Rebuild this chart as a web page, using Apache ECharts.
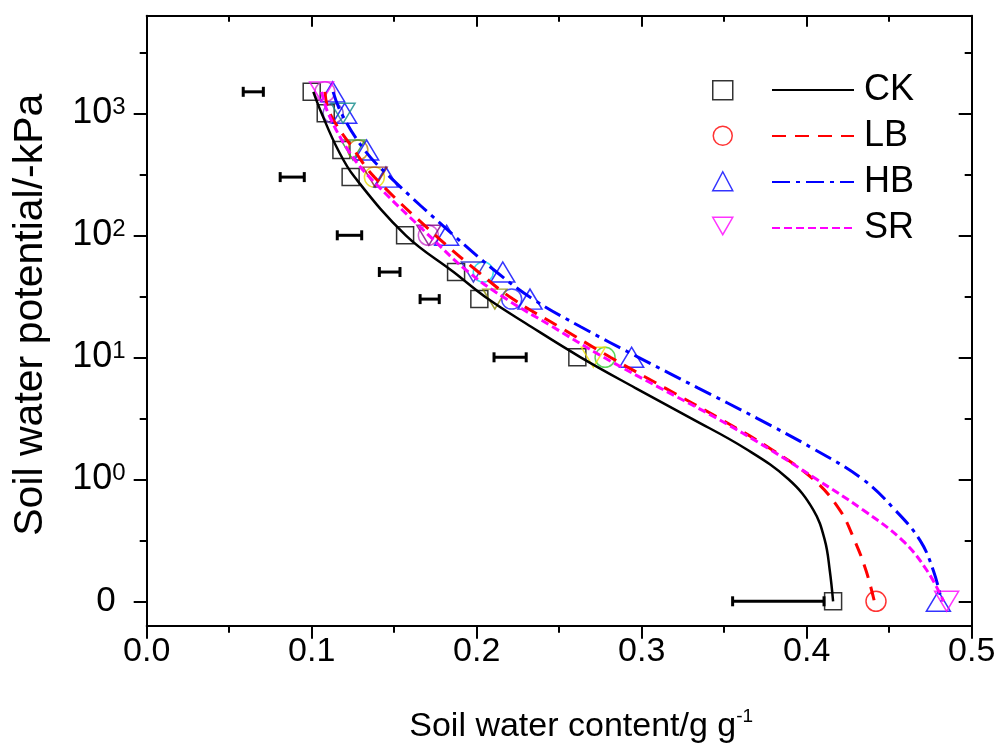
<!DOCTYPE html>
<html>
<head>
<meta charset="utf-8">
<script src="https://cdn.jsdelivr.net/npm/echarts@6/dist/echarts.min.js"></script>
<style>
  html, body { margin: 0; padding: 0; background: #fff; }
  #chart { width: 1003px; height: 751px; }
</style>
</head>
<body>
<div id="chart"></div>
<script>
// Measured soil water potentials (kPa); 0 is drawn one decade below 10^0
const levels = [1500, 1000, 500, 300, 100, 50, 30, 10, 0];

// Measured soil water content (g g-1) at each potential
const ckContent = [0.100, 0.1085, 0.118, 0.1236, 0.1566, 0.1875, 0.2016, 0.261, 0.416];
const lbContent = [0.108, 0.113, 0.128, 0.138, 0.1707, 0.204, 0.2212, 0.2778, 0.442];
const hbContent = [0.1127, 0.120, 0.1333, 0.145, 0.1818, 0.2158, 0.2323, 0.2939, 0.4798];
const srContent = [0.106, 0.119, 0.125, 0.1384, 0.171, 0.198, 0.211, 0.2707, 0.4848];

// Marker colours per point for LB and SR
const lbColors = ['#cc33cc', '#6a3acb', '#b8860b', '#e6d800', '#cc33cc', '#00d8e8', '#1a1aff', '#33cc33', '#ff0000'];
const srColors = ['#ff00ff', '#0f8a8a', '#2e8b2e', '#8b1a1a', '#800080', '#1a1acc', '#8a8a00', '#f0e000', '#ff00ff'];

// Fitted retention curves
const curveLevels = [1500, 1000, 500, 300, 100, 50, 30, 17.8, 10, 5.62, 3.16, 1.78, 1, 0.562, 0.316, 0.178, 0];
const ckCurve = [0.101, 0.106, 0.116, 0.126, 0.157, 0.186, 0.207, 0.233, 0.263, 0.296, 0.330, 0.363, 0.389, 0.404, 0.411, 0.414, 0.416];
const lbCurve = [0.108, 0.111, 0.1257, 0.138, 0.175, 0.201, 0.222, 0.250, 0.281, 0.314, 0.347, 0.378, 0.404, 0.420, 0.429, 0.436, 0.441];
const hbCurve = [0.113, 0.118, 0.132, 0.1475, 0.186, 0.212, 0.234, 0.263, 0.298, 0.334, 0.370, 0.404, 0.434, 0.4535, 0.4687, 0.4768, 0.4818];
const srCurve = [0.106, 0.110, 0.122, 0.135, 0.171, 0.195, 0.218, 0.246, 0.277, 0.311, 0.3455, 0.377, 0.406, 0.434, 0.458, 0.473, 0.483];

// Horizontal error bars (potential, lower and upper water content)
const errLevels = [1500, 300, 100, 50, 30, 10, 0];
const errLow = [0.0585, 0.0809, 0.1155, 0.141, 0.1657, 0.2105, 0.3551];
const errHigh = [0.0707, 0.0955, 0.1303, 0.1535, 0.1773, 0.230, 0.4105];

// Axis ticks (log10 of potential; -1 carries the "0" label)
const yMajorTicks = [-1, 0, 1, 2, 3];
const yMinorTicks = [-0.5, 0.5, 1.5, 2.5, 3.5];

const FONT = '"Liberation Sans", Arial, Helvetica, sans-serif';
const pos = h => (h === 0 ? -1 : Math.log10(h));

const chart = echarts.init(document.getElementById('chart'));

const gridRect = { left: 146.7, right: 31.3, top: 15.7, bottom: 125.3 };
const Y_MIN = -1.2, Y_MAX = 3.8;
const axisLineStyle = { color: '#000', width: 2 };

const triDown = 'path://M0,0L20,0L10,17.3Z';

function pts(xs, ys) { return ys.map((h, i) => [xs[i], pos(h)]); }

const option = {
  animation: false,
  backgroundColor: '#fff',
  grid: [
    Object.assign({}, gridRect),
    Object.assign({}, gridRect)
  ],
  xAxis: [
    {
      type: 'value', gridIndex: 0, position: 'bottom', min: 0, max: 0.5, interval: 0.1,
      axisLine: { show: true, onZero: false, lineStyle: axisLineStyle },
      axisTick: { show: true, inside: false, length: 13, lineStyle: { color: '#000', width: 2 } },
      minorTick: { show: true, splitNumber: 2, length: 7, lineStyle: { color: '#000', width: 2 } },
      axisLabel: { show: true, margin: 9, color: '#000', fontSize: 34, fontFamily: FONT,
        formatter: v => v.toFixed(1) },
      splitLine: { show: false },
      name: '{t|Soil water content/g g}{s|-1}',
      nameLocation: 'middle', nameGap: 82,
      nameTextStyle: {
        padding: [0, 0, 0, 44],
        rich: {
          t: { fontSize: 34, fontFamily: FONT, color: '#000' },
          s: { fontSize: 19, fontFamily: FONT, color: '#000', padding: [0, 0, 18, 0] }
        }
      }
    },
    {
      type: 'value', gridIndex: 0, position: 'top', min: 0, max: 0.5, interval: 0.1,
      axisLine: { show: true, onZero: false, lineStyle: axisLineStyle },
      axisTick: { show: true, inside: true, length: 11, lineStyle: { color: '#000', width: 2 } },
      minorTick: { show: true, splitNumber: 2, length: 6, lineStyle: { color: '#000', width: 2 } },
      axisLabel: { show: false },
      splitLine: { show: false }
    },
    {
      type: 'value', gridIndex: 1, min: 0, max: 0.5, show: false
    }
  ],
  yAxis: [
    {
      type: 'value', gridIndex: 0, position: 'left', min: Y_MIN, max: Y_MAX,
      axisLine: { show: true, onZero: false, lineStyle: axisLineStyle },
      axisTick: { show: true, inside: false, length: 13, customValues: yMajorTicks,
        lineStyle: { color: '#000', width: 2 } },
      axisLabel: {
        show: true, margin: 21, customValues: yMajorTicks, align: 'right',
        formatter: v => (v === -1 ? '{z|0}' : '{b|10}{s|' + v + '}'),
        rich: {
          z: { fontSize: 35, fontFamily: FONT, color: '#000', padding: [0, 10, 0, 0] },
          b: { fontSize: 36, fontFamily: FONT, color: '#000' },
          s: { fontSize: 24, fontFamily: FONT, color: '#000', padding: [0, 0, 11, 0] }
        }
      },
      splitLine: { show: false },
      name: 'Soil water potential/-kPa',
      nameLocation: 'middle', nameGap: 96, nameRotate: 90,
      nameTextStyle: { fontSize: 41, fontFamily: FONT, color: '#000', padding: [0, 0, 0, 12] }
    },
    {
      type: 'value', gridIndex: 0, position: 'right', min: Y_MIN, max: Y_MAX,
      axisLine: { show: true, onZero: false, lineStyle: axisLineStyle },
      axisTick: { show: true, inside: true, length: 13, customValues: yMajorTicks,
        lineStyle: { color: '#000', width: 2 } },
      axisLabel: { show: false },
      splitLine: { show: false }
    },
    {
      type: 'value', gridIndex: 1, position: 'left', min: Y_MIN, max: Y_MAX,
      axisLine: { show: false },
      axisTick: { show: true, inside: false, length: 7, customValues: yMinorTicks,
        lineStyle: { color: '#000', width: 2 } },
      axisLabel: { show: false },
      splitLine: { show: false }
    },
    {
      type: 'value', gridIndex: 1, position: 'right', min: Y_MIN, max: Y_MAX,
      axisLine: { show: false },
      axisTick: { show: true, inside: true, length: 7, customValues: yMinorTicks,
        lineStyle: { color: '#000', width: 2 } },
      axisLabel: { show: false },
      splitLine: { show: false }
    }
  ],
  legend: [
    {
      orient: 'vertical', left: 707, top: 75, itemWidth: 20, itemHeight: 19, itemGap: 25,
      formatter: () => '', textStyle: { fontSize: 1 }, selectedMode: false,
      data: [
        { name: 'CK data', icon: 'rect', itemStyle: { color: 'rgba(0,0,0,0)', borderColor: '#000', borderWidth: 1.5 } },
        { name: 'LB data', icon: 'circle', itemStyle: { color: 'rgba(0,0,0,0)', borderColor: '#ff0000', borderWidth: 1.5 } },
        { name: 'HB data', icon: 'triangle', itemStyle: { color: 'rgba(0,0,0,0)', borderColor: '#0000ff', borderWidth: 1.5 } },
        { name: 'SR data', icon: triDown, itemStyle: { color: 'rgba(0,0,0,0)', borderColor: '#ff00ff', borderWidth: 1.5 } }
      ]
    },
    {
      orient: 'vertical', left: 766, top: 67, itemWidth: 82, itemHeight: 14, itemGap: 10,
      selectedMode: false,
      itemStyle: { opacity: 0 },
      textStyle: { fontSize: 36, fontFamily: FONT, color: '#000', lineHeight: 34, padding: [0, 0, 0, 5] },
      data: ['CK', 'LB', 'HB', 'SR']
    }
  ],
  series: [
    {
      name: 'err', type: 'custom', xAxisIndex: 0, yAxisIndex: 0,
      encode: { x: [1, 2], y: 0 },
      data: errLevels.map((h, i) => [pos(h), errLow[i], errHigh[i]]),
      renderItem: (params, api) => {
        const y = api.value(0);
        const a = api.coord([api.value(1), y]);
        const b = api.coord([api.value(2), y]);
        const cap = 5;
        const st = { stroke: '#000', lineWidth: 3 };
        return {
          type: 'group',
          children: [
            { type: 'line', shape: { x1: a[0], y1: a[1], x2: b[0], y2: b[1] }, style: st },
            { type: 'line', shape: { x1: a[0], y1: a[1] - cap, x2: a[0], y2: a[1] + cap }, style: st },
            { type: 'line', shape: { x1: b[0], y1: b[1] - cap, x2: b[0], y2: b[1] + cap }, style: st }
          ]
        };
      },
      z: 3
    },
    {
      name: 'CK data', type: 'scatter', symbol: 'rect', symbolSize: 17,
      itemStyle: { color: 'rgba(0,0,0,0)', borderColor: '#000', borderWidth: 1.5 },
      data: pts(ckContent, levels), z: 2
    },
    {
      name: 'LB data', type: 'scatter', symbol: 'circle', symbolSize: 20,
      itemStyle: { color: 'rgba(0,0,0,0)', borderColor: '#ff0000', borderWidth: 1.5 },
      data: pts(lbContent, levels).map((p, i) => ({ value: p, itemStyle: { borderColor: lbColors[i] } })),
      z: 2
    },
    {
      name: 'HB data', type: 'scatter', symbol: 'triangle', symbolSize: [24, 20],
      itemStyle: { color: 'rgba(0,0,0,0)', borderColor: '#0000ff', borderWidth: 1.5 },
      data: pts(hbContent, levels), z: 2
    },
    {
      name: 'SR data', type: 'scatter', symbol: triDown, symbolSize: [24, 20],
      itemStyle: { color: 'rgba(0,0,0,0)', borderColor: '#ff00ff', borderWidth: 1.5 },
      data: pts(srContent, levels).map((p, i) => ({ value: p, itemStyle: { borderColor: srColors[i] } })),
      z: 2
    },
    {
      name: 'CK', type: 'line', symbol: 'none', smooth: 0.4,
      lineStyle: { color: '#000', width: 2.5 }, itemStyle: { color: '#000' },
      data: pts(ckCurve, curveLevels), z: 4
    },
    {
      name: 'LB', type: 'line', symbol: 'none', smooth: 0.4,
      lineStyle: { color: '#ff0000', width: 3, type: [14, 9] }, itemStyle: { color: '#ff0000' },
      data: pts(lbCurve, curveLevels), z: 4
    },
    {
      name: 'HB', type: 'line', symbol: 'none', smooth: 0.4,
      lineStyle: { color: '#0000ff', width: 3, type: [18, 6, 4, 6] }, itemStyle: { color: '#0000ff' },
      data: pts(hbCurve, curveLevels), z: 4
    },
    {
      name: 'SR', type: 'line', symbol: 'none', smooth: 0.4,
      lineStyle: { color: '#ff00ff', width: 3, type: [8, 4] }, itemStyle: { color: '#ff00ff' },
      data: pts(srCurve, curveLevels), z: 4
    }
  ]
};

chart.setOption(option);
</script>
</body>
</html>
